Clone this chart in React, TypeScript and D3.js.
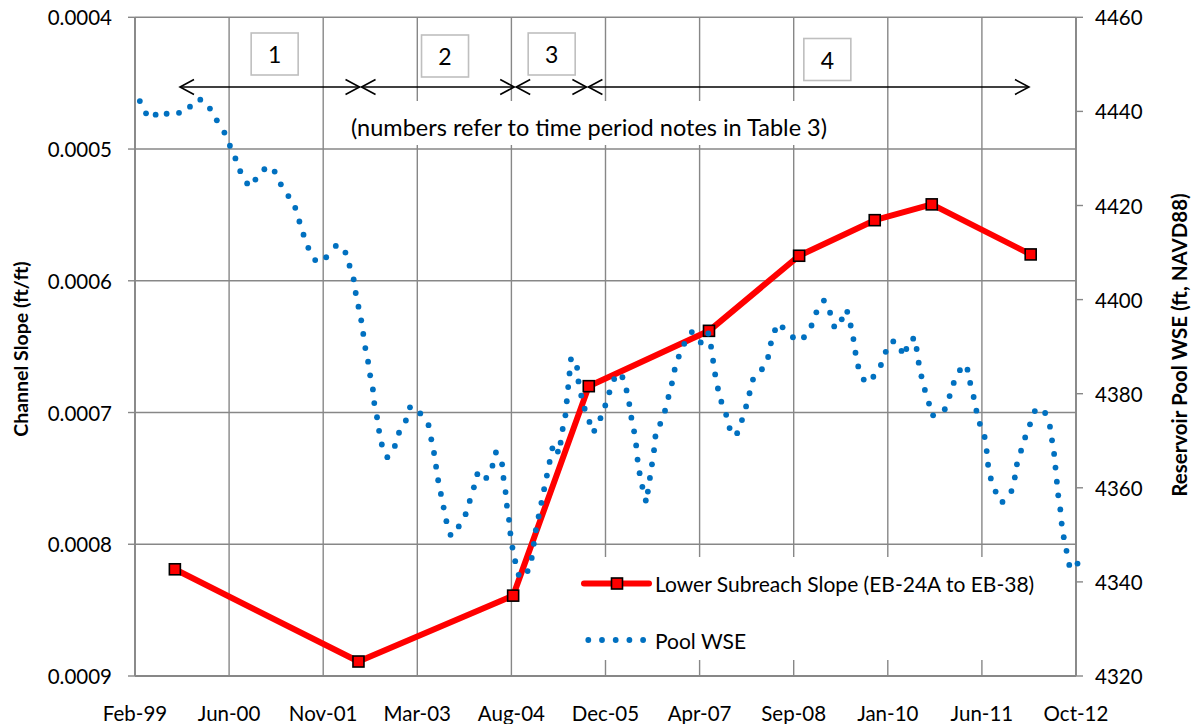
import React from "react";
import * as d3 from "d3";

// ---------- data ----------
const X_START = new Date(1999, 1, 10);
const X_MAJOR_DAYS = 500;
const X_INTERVALS = 10;

const slopeTicks = [0.0004, 0.0005, 0.0006, 0.0007, 0.0008, 0.0009];
const wseTicks = [4460, 4440, 4420, 4400, 4380, 4360, 4340, 4320];

// Lower subreach slope (decimal year, ft/ft)
const slopeDates = [1999.69, 2002.36, 2004.61, 2005.71, 2007.46, 2008.77, 2009.87, 2010.70, 2012.14];
const slopeValues = [0.000819, 0.000889, 0.000839, 0.00068, 0.000638, 0.000581, 0.000554, 0.000542, 0.00058];

// Pool WSE (decimal year, ft)
const wseDates = [
  1999.18, 1999.27, 1999.41, 1999.57, 1999.75, 1999.91, 2000.06, 2000.20, 2000.30, 2000.41,
  2000.49, 2000.57, 2000.64, 2000.74, 2000.86, 2000.99, 2001.14, 2001.23, 2001.34, 2001.44,
  2001.50, 2001.56, 2001.63, 2001.73, 2001.89, 2002.03, 2002.17, 2002.23, 2002.29, 2002.32,
  2002.36, 2002.40, 2002.43, 2002.46, 2002.50, 2002.53, 2002.57, 2002.59, 2002.63, 2002.66,
  2002.70, 2002.78, 2002.89, 2002.95, 2003.05, 2003.11, 2003.26, 2003.38, 2003.42, 2003.46,
  2003.49, 2003.52, 2003.56, 2003.60, 2003.64, 2003.70, 2003.82, 2003.92, 2003.98, 2004.04,
  2004.09, 2004.22, 2004.31, 2004.36, 2004.45, 2004.47, 2004.50, 2004.52, 2004.55, 2004.57,
  2004.60, 2004.64, 2004.69, 2004.82, 2004.88, 2004.91, 2004.94, 2004.98, 2005.02, 2005.06,
  2005.10, 2005.14, 2005.18, 2005.26, 2005.30, 2005.33, 2005.37, 2005.39, 2005.41, 2005.43,
  2005.45, 2005.54, 2005.56, 2005.60, 2005.65, 2005.72, 2005.79, 2005.88, 2005.95, 2006.01,
  2006.08, 2006.20, 2006.26, 2006.30, 2006.33, 2006.37, 2006.40, 2006.42, 2006.45, 2006.49,
  2006.54, 2006.57, 2006.60, 2006.63, 2006.66, 2006.68, 2006.75, 2006.82, 2006.87, 2006.92,
  2006.96, 2007.02, 2007.10, 2007.21, 2007.34, 2007.45, 2007.49, 2007.52, 2007.55, 2007.59,
  2007.64, 2007.71, 2007.76, 2007.87, 2007.94, 2008.00, 2008.05, 2008.10, 2008.23, 2008.32,
  2008.36, 2008.42, 2008.53, 2008.68, 2008.84, 2008.95, 2009.02, 2009.13, 2009.22, 2009.28,
  2009.39, 2009.47, 2009.52, 2009.56, 2009.59, 2009.63, 2009.71, 2009.85, 2009.96, 2010.03,
  2010.14, 2010.26, 2010.33, 2010.43, 2010.48, 2010.51, 2010.55, 2010.60, 2010.66, 2010.72,
  2010.89, 2010.96, 2011.02, 2011.11, 2011.22, 2011.26, 2011.31, 2011.35, 2011.40, 2011.47,
  2011.50, 2011.52, 2011.56, 2011.63, 2011.73, 2011.86, 2011.91, 2011.94, 2012.00, 2012.06,
  2012.13, 2012.20, 2012.35, 2012.42, 2012.45, 2012.48, 2012.50, 2012.52, 2012.54, 2012.57,
  2012.59, 2012.62, 2012.66, 2012.70, 2012.82,
];
const wseValues = [
  4442.2, 4439.6, 4439.3, 4439.5, 4439.7, 4441.0, 4442.5, 4440.6, 4438.1, 4435.5,
  4432.7, 4430.0, 4427.3, 4424.7, 4425.5, 4427.7, 4427.2, 4424.5, 4422.0, 4419.5,
  4416.6, 4413.8, 4411.0, 4408.4, 4409.0, 4411.4, 4410.0, 4407.2, 4404.3, 4401.4,
  4398.5, 4395.6, 4392.7, 4389.7, 4386.8, 4383.9, 4380.9, 4378.0, 4375.0, 4372.1,
  4369.2, 4366.5, 4368.9, 4371.7, 4374.3, 4377.1, 4375.8, 4373.3, 4370.3, 4367.4,
  4364.5, 4361.6, 4358.7, 4355.8, 4352.9, 4350.0, 4351.8, 4354.4, 4357.2, 4360.1,
  4362.9, 4362.1, 4364.7, 4367.5, 4365.0, 4362.1, 4359.1, 4356.2, 4353.2, 4350.3,
  4347.3, 4344.4, 4341.5, 4342.3, 4345.1, 4348.1, 4351.0, 4353.9, 4356.8, 4359.7,
  4362.6, 4365.5, 4368.4, 4367.7, 4369.6, 4372.5, 4375.4, 4378.4, 4381.4, 4384.3,
  4387.3, 4385.5, 4382.6, 4379.6, 4376.8, 4374.0, 4372.1, 4374.8, 4377.5, 4380.3,
  4383.1, 4383.5, 4380.7, 4377.8, 4374.9, 4372.0, 4369.0, 4366.0, 4363.1, 4360.2,
  4357.3, 4359.2, 4362.1, 4365.0, 4368.0, 4370.9, 4373.6, 4376.4, 4379.3, 4382.2,
  4385.1, 4387.9, 4390.6, 4393.1, 4390.9, 4392.8, 4390.0, 4387.0, 4384.1, 4381.1,
  4378.3, 4375.5, 4372.7, 4371.6, 4374.4, 4377.3, 4380.1, 4383.0, 4385.2, 4387.8,
  4390.7, 4393.5, 4394.1, 4392.0, 4392.0, 4394.5, 4397.3, 4399.8, 4397.2, 4394.3,
  4395.8, 4397.4, 4394.5, 4391.6, 4388.7, 4385.8, 4383.0, 4383.6, 4386.1, 4388.9,
  4391.1, 4389.1, 4389.5, 4391.7, 4389.5, 4386.6, 4383.7, 4380.8, 4377.9, 4375.4,
  4376.7, 4379.5, 4382.3, 4385.0, 4385.1, 4382.3, 4379.3, 4376.4, 4373.6, 4370.8,
  4367.8, 4364.9, 4362.0, 4359.2, 4357.0, 4359.3, 4362.2, 4365.0, 4367.9, 4370.7,
  4373.5, 4376.3, 4375.9, 4373.0, 4370.1, 4367.2, 4364.3, 4361.3, 4358.4, 4355.4,
  4352.4, 4349.5, 4346.6, 4343.6, 4343.9,
];

// time-period annotations
const periodBounds = [1999.75, 2002.39, 2004.64, 2005.69, 2012.13];
const periodLabels = ["1", "2", "3", "4"];
const periodLabelDates = [2001.14, 2003.62, 2005.17, 2009.18];
const periodNote = "(numbers refer to time period notes in Table 3)";

const seriesNames = ["Lower Subreach Slope (EB-24A to EB-38)", "Pool WSE"];
const leftTitle = "Channel Slope (ft/ft)";
const rightTitle = "Reservoir Pool WSE (ft, NAVD88)";

function decYear(t: number): Date {
  const y = Math.floor(t);
  const a = new Date(y, 0, 1).getTime();
  const b = new Date(y + 1, 0, 1).getTime();
  return new Date(a + (t - y) * (b - a));
}

const FONT = "Lato, 'Open Sans', sans-serif";
const GRID = "#878787";

export default function App() {
  const W = 1192, H = 724;
  const L = 135, R = 1076, T = 17.3, B = 676;

  const x = d3
    .scaleTime()
    .domain([X_START, d3.timeDay.offset(X_START, X_MAJOR_DAYS * X_INTERVALS)])
    .range([L, R]);
  const yL = d3.scaleLinear().domain([0.0004, 0.0009]).range([T, B]);
  const yR = d3.scaleLinear().domain([4460, 4320]).range([T, B]);

  const xTicks = d3.range(X_INTERVALS + 1).map((i) => d3.timeDay.offset(X_START, i * X_MAJOR_DAYS));
  const fmtX = d3.timeFormat("%b-%y");
  const fmtL = d3.format(".4f");

  const slopePts = slopeDates.map((d, i) => [x(decYear(d)), yL(slopeValues[i])] as [number, number]);
  const wsePts = wseDates.map((d, i) => [x(decYear(d)), yR(wseValues[i])] as [number, number]);
  const slopeLine = d3.line()(slopePts) || "";

  const arrowY = 87;
  const ah = 14, aw = 7.5;

  const legX = 584, legY1 = 583.5, legY2 = 640;

  return (
    <svg
      width={W}
      height={H}
      style={{ position: "absolute", left: 0, top: 0, background: "#fff" }}
      fontFamily={FONT}
    >
      <rect x={0} y={0} width={W} height={H} fill="#fff" />

      {/* horizontal gridlines */}
      {slopeTicks.map((t) => (
        <line key={"h" + t} x1={L} x2={R} y1={yL(t)} y2={yL(t)} stroke={GRID} strokeWidth={1.4} />
      ))}
      {/* vertical gridlines */}
      {xTicks.map((t, i) => (
        <line key={"v" + i} x1={x(t)} x2={x(t)} y1={T} y2={B} stroke={GRID} strokeWidth={1.4} />
      ))}

      {/* white boxes behind note text and legend */}
      <rect x={336} y={101} width={508} height={44} fill="#fff" />
      <rect x={572} y={557} width={476} height={103} fill="#fff" />

      {/* axes */}
      <line x1={L} x2={L} y1={T} y2={B} stroke={GRID} strokeWidth={1.8} />
      <line x1={R} x2={R} y1={T} y2={B} stroke={GRID} strokeWidth={1.8} />
      <line x1={L} x2={R} y1={B} y2={B} stroke={GRID} strokeWidth={1.8} />
      {slopeTicks.map((t) => (
        <line key={"lt" + t} x1={L - 7} x2={L} y1={yL(t)} y2={yL(t)} stroke={GRID} strokeWidth={1.4} />
      ))}
      {wseTicks.map((t) => (
        <line key={"rt" + t} x1={R} x2={R + 7} y1={yR(t)} y2={yR(t)} stroke={GRID} strokeWidth={1.4} />
      ))}

      {/* tick labels */}
      {slopeTicks.map((t) => (
        <text key={"ll" + t} x={112} y={yL(t)} textAnchor="end" dominantBaseline="central" fontSize={20.5} fill="#000">
          {fmtL(t)}
        </text>
      ))}
      {wseTicks.map((t) => (
        <text key={"rl" + t} x={1095} y={yR(t)} textAnchor="start" dominantBaseline="central" fontSize={20.5} fill="#000">
          {t}
        </text>
      ))}
      {xTicks.map((t, i) => (
        <text key={"xl" + i} x={x(t)} y={713} textAnchor="middle" dominantBaseline="central" fontSize={20.5} fill="#000">
          {fmtX(t)}
        </text>
      ))}

      {/* axis titles */}
      <text
        transform={`translate(20,${349}) rotate(-90)`}
        textAnchor="middle"
        dominantBaseline="central"
        fontSize={19.5}
        fontWeight="bold"
      >
        {leftTitle}
      </text>
      <text
        transform={`translate(1179,${345}) rotate(-90)`}
        textAnchor="middle"
        dominantBaseline="central"
        fontSize={20.5}
        fontWeight="bold"
      >
        {rightTitle}
      </text>

      {/* slope series */}
      <path d={slopeLine} fill="none" stroke="#ff0000" strokeWidth={6} strokeLinejoin="round" />
      {slopePts.map(([px, py], i) => (
        <rect key={"m" + i} x={px - 5.5} y={py - 5.5} width={11} height={11} fill="#ff0000" stroke="#000" strokeWidth={1.6} />
      ))}

      {/* pool WSE series */}
      {wsePts.map(([px, py], i) => (
        <circle key={"w" + i} cx={px} cy={py} r={2.9} fill="#0070c0" />
      ))}

      {/* period arrows */}
      {periodLabels.map((lab, i) => {
        const x1 = x(decYear(periodBounds[i])) + 1;
        const x2 = x(decYear(periodBounds[i + 1])) - 1;
        return (
          <g key={"p" + i} stroke="#000" strokeWidth={1.6} fill="none">
            <line x1={x1} x2={x2} y1={arrowY} y2={arrowY} />
            <polyline points={`${x1 + ah},${arrowY - aw} ${x1},${arrowY} ${x1 + ah},${arrowY + aw}`} />
            <polyline points={`${x2 - ah},${arrowY - aw} ${x2},${arrowY} ${x2 - ah},${arrowY + aw}`} />
          </g>
        );
      })}
      {periodLabels.map((lab, i) => {
        const cx = x(decYear(periodLabelDates[i]));
        const cy = i === 3 ? 59.5 : i === 1 ? 56 : 54;
        return (
          <g key={"pl" + i}>
            <rect x={cx - 23.5} y={cy - 21} width={47} height={42} fill="#fff" stroke="#bfbfbf" strokeWidth={1.6} />
            <text x={cx} y={cy} textAnchor="middle" dominantBaseline="central" fontSize={23} fill="#000">
              {lab}
            </text>
          </g>
        );
      })}
      <text x={589} y={127} textAnchor="middle" dominantBaseline="central" fontSize={23.5} fill="#000">
        {periodNote}
      </text>

      {/* legend */}
      <line x1={legX} x2={legX + 65} y1={legY1} y2={legY1} stroke="#ff0000" strokeWidth={6} strokeLinecap="round" />
      <rect x={legX + 33 - 5.5} y={legY1 - 5.5} width={11} height={11} fill="#ff0000" stroke="#000" strokeWidth={1.6} />
      <text x={655} y={legY1} dominantBaseline="central" fontSize={21} fill="#000">
        {seriesNames[0]}
      </text>
      {d3.range(5).map((i) => (
        <circle key={"ld" + i} cx={legX + 4.3 + i * 13.7} cy={legY2} r={2.9} fill="#0070c0" />
      ))}
      <text x={655} y={legY2} dominantBaseline="central" fontSize={21} fill="#000">
        {seriesNames[1]}
      </text>
    </svg>
  );
}
